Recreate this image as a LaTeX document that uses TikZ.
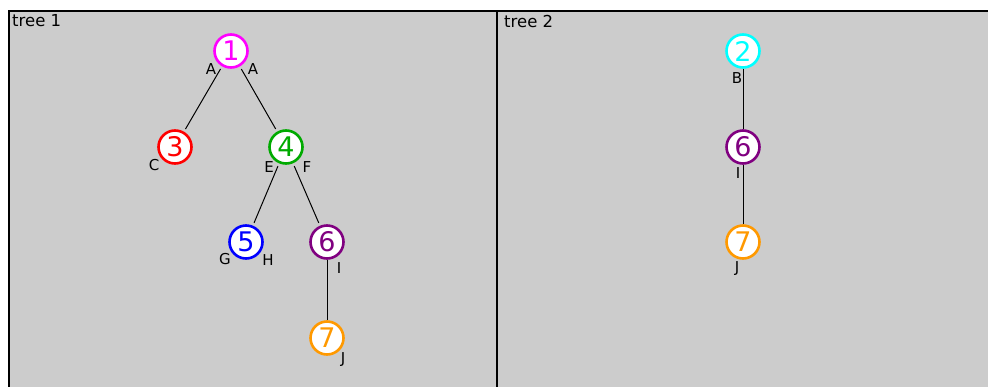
\documentclass[tikz,border=0pt]{standalone}
\usepackage{fontspec}
\setmainfont{DejaVu Sans}
\usepackage{tikz}
\usetikzlibrary{arrows.meta,calc}
\definecolor{panelgray}{HTML}{CCCCCC}
\definecolor{tmagenta}{HTML}{FF00FF}
\definecolor{tcyan}{HTML}{00FFFF}
\definecolor{tred}{HTML}{FF0000}
\definecolor{tgreen}{HTML}{00AA00}
\definecolor{tblue}{HTML}{0000FF}
\definecolor{tpurple}{HTML}{800080}
\definecolor{torange}{HTML}{FF9900}
\tikzset{
  vert/.style={circle,draw=#1,text=#1,fill=white,line width=2.6pt,minimum size=33pt,inner sep=0pt,font=\fontsize{27}{27}\selectfont},
  lbl/.style={font=\fontsize{15}{15}\selectfont,inner sep=0pt},
  ttl/.style={font=\fontsize{16.5}{16.5}\selectfont,inner sep=0pt,anchor=west},
  edge/.style={line width=1pt},
  gap/.style={shorten <=3pt,shorten >=3pt}
}
\begin{document}
\begin{tikzpicture}[x=1pt,y=-1pt]
\useasboundingbox (0,0) rectangle (988,386);
\clip (0,0) rectangle (988,386);
\draw[fill=panelgray,line width=1.5pt] (9,11) rectangle (497,400);
\draw[fill=panelgray,line width=1.5pt] (497,11) rectangle (1000,400);
\node[ttl] (title1) at (12,21){tree 1};
\node[ttl] (title2) at (504,21){tree 2};
% tree 1
\node[vert=tmagenta] (a1) at (231,51){1};
\node[vert=tred] (a3) at (175,147){3};
\node[vert=tgreen] (a4) at (286,147){4};
\node[vert=tblue] (a5) at (246,242){5};
\node[vert=tpurple] (a6) at (327,242){6};
\node[vert=torange] (a7) at (327,338){7};
\draw[edge,gap] (a1) -- (a3);
\draw[edge,gap] (a1) -- (a4);
\draw[edge,gap] (a4) -- (a5);
\draw[edge,gap] (a4) -- (a6);
\draw[edge] (a6) -- (a7);
\node[lbl] (a1l) at (211,69){A};
\node[lbl] (a1r) at (253,69){A};
\node[lbl] (a3l) at (154,165){C};
\node[lbl] (a4l) at (269,167){E};
\node[lbl] (a4r) at (307,167){F};
\node[lbl] (a5l) at (225,259){G};
\node[lbl] (a5r) at (268,260){H};
\node[lbl] (a6r) at (339,268){I};
\node[lbl] (a7r) at (343,360){J};
% tree 2
\node[vert=tcyan] (b2) at (743,51){2};
\node[vert=tpurple] (b6) at (743,147){6};
\node[vert=torange] (b7) at (743,242){7};
\draw[edge] (b2) -- (b6);
\draw[edge] (b6) -- (b7);
\node[lbl] (b2l) at (737,78){B};
\node[lbl] (b6l) at (738,173){I};
\node[lbl] (b7l) at (737,269){J};
\end{tikzpicture}
\end{document}
